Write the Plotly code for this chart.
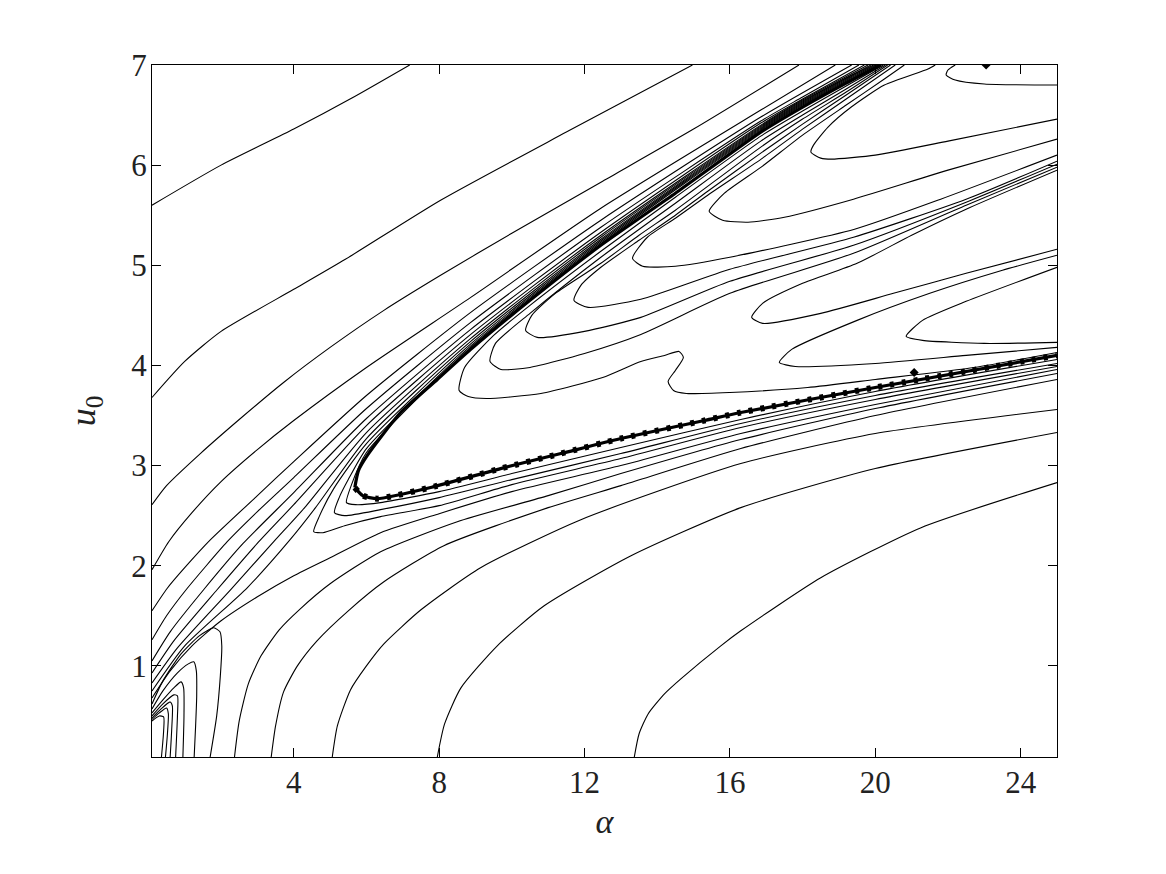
import plotly.graph_objects as go

# ---- contour lines: lists of (alpha, u0) ----
# fan lines from the left edge (upper-left side of the wedge)
F1 = [(0.1,5.60),(2,6.0),(4,6.36),(5.6,6.67),(7.19,7.0)]
F2 = [(0.1,3.68),(1,4.04),(2,4.34),(4,4.76),(5.42,5.06),(8.04,5.65),(11.5,6.33),(14.97,7.0)]
F3 = [(0.1,2.61),(0.5,2.80),(1.43,3.12),(2.5,3.46),(3.72,3.83),(5,4.18),(6.48,4.55),
      (8.04,4.90),(10,5.32),(12.5,5.84),(15,6.36),(17.9,7.0)]
F4 = [(0.1,1.96),(0.56,2.24),(1.2,2.53),(2,2.84),(3,3.16),(4,3.45),(6,3.98),
      (8.87,4.68),(12.45,5.57),(16.85,6.55),(18.9,7.0)]
F5 = [(0.1,1.55),(0.51,1.77),(1.0,1.98),(1.71,2.26),(3,2.70),(4,3.04),(6,3.70),(8.87,4.53),
      (12.45,5.45),(16.85,6.48),(19.35,7.0)]
F6 = [(0.1,1.26),(0.5,1.50),(1.06,1.77),(2.17,2.24),(3,2.54),(4,2.88),(6,3.57),(8.87,4.43),
      (12.45,5.38),(16.85,6.44),(18,6.68),(19.55,7.0)]
F7 = [(0.1,1.05),(0.6,1.34),(1.52,1.76),(2.6,2.22),(4,2.73),(6,3.47),(8.87,4.36),
      (12.45,5.33),(16.85,6.42),(18,6.66),(19.7,7.0)]
F8 = [(0.1,0.93),(0.7,1.25),(1.89,1.76),(2.99,2.22),(4,2.61),(6,3.40),(8.87,4.31),
      (12.45,5.30),(16.85,6.40),(18,6.65),(19.8,7.0)]
F9 = [(0.1,0.83),(0.8,1.18),(2.26,1.76),(3.45,2.24),(4.3,2.58),(6,3.33),(8.87,4.27),
      (12.45,5.28),(16.85,6.39),(18,6.64),(19.88,7.0)]
F10 = [(0.1,0.75),(1.0,1.20),(2.72,1.78),(3.9,2.26),(4.6,2.58),(6,3.27),(8.87,4.24),
       (12.45,5.26),(16.85,6.38),(18,6.63),(19.2,6.87),(19.95,7.0)]

# nested "V" curves around the wedge tip
V1 = [(20.0,7.0),(19.2,6.86),(18,6.62),(16.85,6.37),(12.45,5.245),(8.87,4.215),(6,3.22),
      (5.1,2.77),(4.7,2.49),(4.55,2.34),(4.8,2.33),(5.4,2.40),(6.39,2.49),(8,2.60),(10,2.81),
      (13,3.07),(16.3,3.38),(20,3.66),(25,3.99)]
V2 = [(20.05,7.0),(19.2,6.85),(18,6.61),(16.85,6.36),(12.45,5.23),(8.87,4.195),(6,3.17),
      (5.5,2.86),(5.25,2.68),(5.12,2.53),(5.4,2.50),(6.39,2.56),(8,2.68),(10,2.86),
      (13,3.12),(16.3,3.42),(20,3.70),(25,4.02)]
V3 = [(20.1,7.0),(19.2,6.84),(18,6.6),(16.85,6.35),(12.45,5.215),(8.87,4.18),(6,3.13),
      (5.58,2.80),(5.45,2.63),(5.7,2.61),(6.39,2.63),(8,2.74),(10,2.92),(13,3.18),
      (16.3,3.46),(20,3.74),(25,4.06)]

# thick wedge boundary
BAND_UP = [(5.68,2.78),(5.78,2.95),(6.02,3.10),(6.94,3.53),(7.95,3.86),(8.87,4.16),
           (10.5,4.65),(12.45,5.2),(14.5,5.72),(16.85,6.33),(18,6.58),(19.2,6.82),(20.16,7.0)]
BAND_LO = [(5.68,2.78),(5.9,2.70),(6.3,2.67),(7.86,2.79),(9.69,2.97),(11.35,3.12),(13,3.27),
           (15.3,3.45),(16.3,3.53),(20,3.78),(25,4.10)]

# lines below the wedge
X1 = [(0.1,0.68),(0.6,0.95),(1.2,1.2),(2.0,1.45),(3.0,1.69),(4.0,1.90),(5.0,2.08),
      (6.39,2.33),(8,2.52),(10,2.74),(13,3.0),(16.3,3.32),(20,3.61),(25,3.96)]
ARC1 = [(2.37,0.09),(2.5,0.45),(2.75,0.82),(3.1,1.10),(3.6,1.36),(4.18,1.57),(5.0,1.82),
        (6.39,2.14),(8.5,2.44),(11,2.70),(13,2.92),(16.3,3.26),(20,3.57),(25,3.92)]
ARC2 = [(3.38,0.09),(3.5,0.4),(3.72,0.74),(4.1,1.0),(4.64,1.25),(5.5,1.55),(6.48,1.84),
        (8.13,2.20),(11,2.58),(13,2.80),(16.3,3.17),(20,3.50),(25,3.86)]
ARC3 = [(5.06,0.09),(5.2,0.4),(5.56,0.76),(6.0,1.0),(6.48,1.22),(7.5,1.56),(9.14,1.98),
        (11.9,2.46),(16.3,3.02),(20,3.32),(25,3.56)]
ARC4 = [(7.95,0.09),(8.15,0.42),(8.6,0.78),(9.6,1.2),(10.89,1.60),(13.28,2.10),(16.3,2.58),
        (20,2.97),(25,3.33)]
ARC5 = [(13.37,0.09),(13.5,0.32),(13.75,0.52),(14.2,0.72),(14.65,0.87),(15.75,1.20),
        (16.3,1.35),(18.5,1.88),(21.26,2.38),(25,2.83)]

# loops pinched at the left edge
LP1 = [(0.1,0.62),(0.4,0.85),(0.9,1.12),(1.4,1.30),(1.8,1.38),(1.97,1.34),(2.02,1.2),
       (1.98,0.9),(1.88,0.5),(1.70,0.09)]
LP2 = [(0.1,0.57),(0.4,0.75),(0.8,0.93),(1.1,1.02),(1.25,1.04),(1.32,0.95),(1.33,0.7),
       (1.30,0.4),(1.26,0.09)]
LP3 = [(0.1,0.53),(0.4,0.66),(0.7,0.78),(0.9,0.84),(0.97,0.78),(0.98,0.5),(0.95,0.09)]
LP4 = [(0.1,0.50),(0.4,0.62),(0.7,0.71),(0.8,0.70),(0.80,0.5),(0.75,0.09)]
LP5 = [(0.1,0.48),(0.35,0.57),(0.6,0.64),(0.66,0.6),(0.64,0.35),(0.60,0.09)]
LP6 = [(0.1,0.465),(0.3,0.53),(0.5,0.58),(0.55,0.52),(0.52,0.3),(0.47,0.09)]
LP7 = [(0.1,0.45),(0.3,0.50),(0.42,0.49),(0.42,0.35),(0.36,0.09)]

# fingers inside the wedge (upper end -> tip -> lower end)
T1 = [(20.22,7.0),(19.2,6.79),(18,6.54),(16.85,6.29),(14.5,5.68),(12.45,5.14),(10.5,4.6),
      (9.5,4.3),(8.7,3.98),(8.55,3.75),(8.8,3.69),(9.3,3.67),(10.8,3.72),(12.5,3.88),
      (13.55,4.04),(14.2,4.1),(14.6,4.14),(14.72,4.08),(14.5,3.95),(14.3,3.84),(14.45,3.75),
      (14.8,3.72),(16,3.73),(18.14,3.78),(20,3.86),(22.73,3.98),(25,4.13)]
T2 = [(20.28,7.0),(19.2,6.76),(18,6.50),(16.85,6.24),(14.5,5.62),(12.45,5.08),(10.5,4.52),
      (9.55,4.22),(9.4,4.04),(9.7,3.96),(10.5,3.98),(12,4.12),(13.55,4.31),(16,4.72),
      (19.4,5.12),(22.5,5.60),(25,5.98)]
T3 = [(20.34,7.0),(19.2,6.73),(18,6.46),(16.85,6.18),(14.5,5.55),(13.5,5.3),(12.45,5.02),
      (11.2,4.72),(10.55,4.5),(10.38,4.35),(10.7,4.28),(12,4.34),(13.55,4.48),(16,4.84),
      (19.4,5.20),(22.5,5.63),(25,6.01)]
T4 = [(20.42,7.0),(19.2,6.70),(18,6.41),(16.85,6.12),(15.39,5.74),(14.5,5.5),(13.5,5.25),
      (12.45,4.98),(11.9,4.8),(11.71,4.65),(12.1,4.58),(13.55,4.66),(16,4.96),(19.4,5.28),
      (22.5,5.66),(25,6.04)]
T5 = [(20.55,7.0),(19.2,6.66),(18,6.36),(16.86,6.06),(15.39,5.70),(14.5,5.47),(13.73,5.28),
      (13.32,5.07),(13.6,4.99),(14.5,4.99),(16,5.08),(19.43,5.36),(21.8,5.66),(25,6.10)]
T6 = [(20.8,7.0),(20.25,6.86),(19.2,6.6),(18,6.3),(16.86,5.98),(15.85,5.72),(15.43,5.54),
      (15.8,5.45),(16.5,5.43),(17.5,5.48),(19.4,5.66),(22,5.95),(25,6.26)]
T7 = [(21.65,7.0),(21.45,6.96),(20.25,6.80),(19.34,6.58),(18.7,6.38),(18.3,6.2),(18.23,6.13),
      (18.5,6.07),(18.8,6.06),(20,6.10),(22,6.24),(25,6.46)]
T8 = [(22.2,7.0),(22.0,6.95),(21.95,6.90),(22.2,6.85),(23,6.81),(25,6.80)]
G1 = [(25,5.95),(22.5,5.56),(21,5.3),(19.5,5.02),(18,4.82),(16.9,4.62),(16.6,4.48),
      (16.9,4.42),(18.5,4.52),(20.5,4.72),(22.5,4.92),(25,5.16)]
G2 = [(25,4.98),(22.5,4.64),(21.3,4.45),(20.85,4.29),(21.3,4.25),(23,4.22),(25,4.23)]
G3 = [(25,5.10),(23.5,4.95),(21.5,4.72),(19.5,4.45),(17.7,4.16),(17.36,4.03),(17.8,3.99),
      (20,4.02),(22.5,4.10),(25,4.18)]

# small solid marks visible in the picture
MARKS_A = [23.05, 21.07]
MARKS_U = [7.0, 3.93]

X_TICKS = [4, 8, 12, 16, 20, 24]
Y_TICKS = [1, 2, 3, 4, 5, 6, 7]

thin = [F1, F2, F3, F4, F5, F6, F7, F8, F9, F10, V1, V2, V3, X1, ARC1, ARC2, ARC3, ARC4,
        ARC5, LP1, LP2, LP3, LP4, LP5, LP6, LP7, T1, T2, T3, T4, T5, T6, T7, T8, G1, G2, G3]
thick = [BAND_UP, BAND_LO]


def xs(c):
    return [p[0] for p in c]


def ys(c):
    return [p[1] for p in c]


fig = go.Figure()
for c in thin:
    fig.add_trace(go.Scatter(x=xs(c), y=ys(c), mode="lines",
                             line=dict(color="black", width=1.1, shape="spline", smoothing=0.6),
                             hoverinfo="skip"))
for c in thick:
    fig.add_trace(go.Scatter(x=xs(c), y=ys(c), mode="lines",
                             line=dict(color="black", width=3.2, shape="spline", smoothing=0.6),
                             hoverinfo="skip"))
# saw-tooth texture on the lower boundary of the wedge
fig.add_trace(go.Scatter(x=xs(BAND_LO), y=ys(BAND_LO), mode="lines",
                         line=dict(color="black", width=6, shape="spline", smoothing=0.6,
                                   dash="4px,8px"),
                         hoverinfo="skip"))
fig.add_trace(go.Scatter(x=MARKS_A, y=MARKS_U, mode="markers",
                         marker=dict(symbol="diamond", size=7, color="black"), hoverinfo="skip"))

font_family = "Liberation Serif, DejaVu Serif, serif"
fig.update_layout(
    width=1158, height=866, showlegend=False,
    paper_bgcolor="white", plot_bgcolor="white",
    margin=dict(l=144, r=109, t=57, b=117),
    font=dict(family=font_family, size=31, color="#222"),
    xaxis=dict(range=[0.1, 25], tickvals=X_TICKS, ticktext=[str(v) for v in X_TICKS],
               ticks="inside", ticklen=9, tickcolor="black", showline=True, linecolor="black",
               linewidth=1, mirror="ticks", showgrid=False, zeroline=False,
               ticklabelstandoff=-2,
               title=dict(text="<i>α</i>", font=dict(size=34, family=font_family), standoff=9)),
    yaxis=dict(range=[0.09, 7], tickvals=Y_TICKS, ticktext=[str(v) for v in Y_TICKS],
               ticks="inside", ticklen=9, tickcolor="black", showline=True, linecolor="black",
               linewidth=1, mirror="ticks", showgrid=False, zeroline=False,
               ticklabelstandoff=-2,
               title=dict(text="<i>u</i><sub>0</sub>", font=dict(size=36, family=font_family),
                          standoff=24)),
)
fig.write_html("out.html")
